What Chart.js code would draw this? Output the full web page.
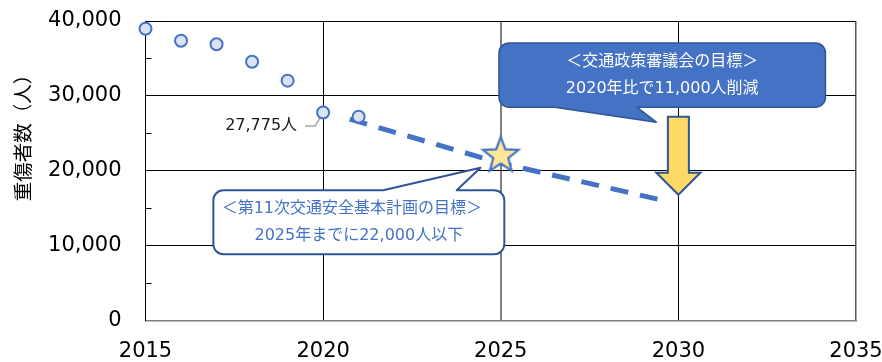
<!DOCTYPE html>
<html><head><meta charset="utf-8">
<script src="https://cdn.jsdelivr.net/npm/chart.js@4"></script>
<style>html,body{margin:0;padding:0;background:#fff}canvas{display:block}</style>
</head><body>
<canvas id="c" width="882" height="362"></canvas>
<script>
// ---- data ----
const years = [2015, 2016, 2017, 2018, 2019, 2020, 2021];
const injuries = [38959, 37356, 36895, 34558, 32025, 27775, 27204];
const trendYears = [2020.75, 2025, 2029.5];
const trendValues = [26880, 21000, 16100];
const targetYears = [2025];
const targetValues = [22000];
const xTickValues = [2015, 2020, 2025, 2030, 2035];
const yTickValues = [0, 10000, 20000, 30000, 40000];
const yMinorTickValues = [5000, 15000, 25000, 35000];
const arrowYears = [2030];
const arrowFromValues = [27200];
const arrowToValues = [16775];
const yTitle = '重傷者数（人）';
const pointLabel = '27,775人';
const callout1Lines = ['＜交通政策審議会の目標＞', '2020年比で11,000人削減'];
const callout2Lines = ['＜第11次交通安全基本計画の目標＞', '2025年までに22,000人以下'];

// ---- annotation geometry (data units) & styles ----
const callout1 = {x1: 2024.95, x2: 2034.14, yTop: 37066, yBottom: 28480,
  tailA: 2026.52, tailB: 2028.83, tipX: 2029.38, tipY: 26480, side: 'bottom',
  fill: '#4472C4', stroke: '#2F5597', lw: 1.5, text: '#FFFFFF', lineDx: [0, 0]};
const callout2 = {x1: 2016.91, x2: 2025.1, yTop: 17373, yBottom: 8840,
  tailA: 2021.69, tailB: 2023.76, tipX: 2024.43, tipY: 20400, side: 'top',
  fill: '#FFFFFF', stroke: '#2F5597', lw: 2, text: '#4472C4', lineDx: [-7, 0]};
const ANN_FONT = '16px "DejaVu Sans", "Noto Sans CJK JP", sans-serif';

function makeStar(R, r, fill, stroke, lw) {
  const s = Math.ceil(2 * R + lw * 2 + 4);
  const c = document.createElement('canvas');
  c.width = s; c.height = s;
  const g = c.getContext('2d');
  const cx = s / 2, cy = s / 2;
  g.beginPath();
  for (let i = 0; i < 10; i++) {
    const a = -Math.PI / 2 + i * Math.PI / 5;
    const rad = i % 2 ? r : R;
    g.lineTo(cx + rad * Math.cos(a), cy + rad * Math.sin(a));
  }
  g.closePath();
  g.fillStyle = fill; g.fill();
  g.lineWidth = lw; g.strokeStyle = stroke; g.lineJoin = 'miter'; g.stroke();
  return c;
}
const starImg = makeStar(18.6, 7.9, '#FFE699', '#4472C4', 2.2);

function drawCallout(ctx, xs, ys, c, lines) {
  const x1 = xs.getPixelForValue(c.x1), x2 = xs.getPixelForValue(c.x2);
  const y1 = ys.getPixelForValue(c.yTop), y2 = ys.getPixelForValue(c.yBottom);
  const ta = xs.getPixelForValue(c.tailA), tb = xs.getPixelForValue(c.tailB);
  const tx = xs.getPixelForValue(c.tipX), ty = ys.getPixelForValue(c.tipY);
  const r = 10;
  ctx.save();
  ctx.beginPath();
  ctx.moveTo(x1 + r, y1);
  if (c.side === 'top') { ctx.lineTo(ta, y1); ctx.lineTo(tx, ty); ctx.lineTo(tb, y1); }
  ctx.arcTo(x2, y1, x2, y1 + r, r);
  ctx.arcTo(x2, y2, x2 - r, y2, r);
  if (c.side === 'bottom') { ctx.lineTo(tb, y2); ctx.lineTo(tx, ty); ctx.lineTo(ta, y2); }
  ctx.arcTo(x1, y2, x1, y2 - r, r);
  ctx.arcTo(x1, y1, x1 + r, y1, r);
  ctx.closePath();
  ctx.fillStyle = c.fill; ctx.fill();
  ctx.lineWidth = c.lw; ctx.strokeStyle = c.stroke; ctx.lineJoin = 'round'; ctx.stroke();
  ctx.fillStyle = c.text; ctx.font = ANN_FONT;
  ctx.textAlign = 'center'; ctx.textBaseline = 'middle';
  const cx = (x1 + x2) / 2, cy = (y1 + y2) / 2;
  ctx.fillText(lines[0], cx + c.lineDx[0], cy - 13.5);
  ctx.fillText(lines[1], cx + c.lineDx[1], cy + 14);
  ctx.restore();
}

function drawArrow(ctx, xs, ys, year, from, to) {
  const x = xs.getPixelForValue(year);
  const yTop = ys.getPixelForValue(from), yTip = ys.getPixelForValue(to);
  const shaftHalf = 10.5, headHalf = 22, headLen = 22;
  const yHead = yTip - headLen;
  ctx.save();
  ctx.beginPath();
  ctx.moveTo(x - shaftHalf, yTop);
  ctx.lineTo(x + shaftHalf, yTop);
  ctx.lineTo(x + shaftHalf, yHead);
  ctx.lineTo(x + headHalf, yHead);
  ctx.lineTo(x, yTip);
  ctx.lineTo(x - headHalf, yHead);
  ctx.lineTo(x - shaftHalf, yHead);
  ctx.closePath();
  ctx.fillStyle = '#FFD966'; ctx.fill();
  ctx.lineWidth = 2; ctx.strokeStyle = '#2F5597'; ctx.lineJoin = 'miter'; ctx.stroke();
  ctx.restore();
}

const annotPlugin = {
  id: 'annot',
  beforeDatasetsDraw(chart) {
    const ctx = chart.ctx, xs = chart.scales.x, ys = chart.scales.y;
    ctx.save();
    ctx.strokeStyle = '#000'; ctx.lineWidth = 1;
    yMinorTickValues.forEach(v => {
      const y = Math.round(ys.getPixelForValue(v)) + 0.5;
      ctx.beginPath(); ctx.moveTo(xs.left, y); ctx.lineTo(xs.left + 6, y); ctx.stroke();
    });
    ctx.restore();
    const i = years.indexOf(2020);
    const px = xs.getPixelForValue(years[i]), py = ys.getPixelForValue(injuries[i]);
    ctx.save();
    ctx.strokeStyle = '#A6A6A6'; ctx.lineWidth = 1.5;
    ctx.beginPath();
    ctx.moveTo(px - 18, py + 13.5); ctx.lineTo(px - 8, py + 13.5); ctx.lineTo(px - 1, py + 2);
    ctx.stroke();
    ctx.fillStyle = '#1A1A1A'; ctx.font = ANN_FONT;
    ctx.textAlign = 'right'; ctx.textBaseline = 'middle';
    ctx.fillText(pointLabel, px - 26, py + 13);
    ctx.restore();
    drawCallout(ctx, xs, ys, callout1, callout1Lines);
    drawCallout(ctx, xs, ys, callout2, callout2Lines);
    arrowYears.forEach((yr, k) => drawArrow(ctx, xs, ys, yr, arrowFromValues[k], arrowToValues[k]));
  },
  afterDraw(chart) {
    const ctx = chart.ctx;
    ctx.save();
    ctx.translate(23, 133);
    ctx.rotate(-Math.PI / 2);
    ctx.fillStyle = '#000';
    ctx.font = '19.5px "Noto Sans CJK JP", sans-serif';
    ctx.textAlign = 'center'; ctx.textBaseline = 'middle';
    ctx.fillText(yTitle, 0, 0);
    ctx.restore();
  }
};

const tickFont = {family: '"DejaVu Sans", sans-serif', size: 21};

new Chart(document.getElementById('c'), {
  type: 'scatter',
  data: {
    datasets: [
      {
        label: '重傷者数',
        data: years.map((y, i) => ({x: y, y: injuries[i]})),
        pointRadius: 6,
        pointBackgroundColor: '#DAE3F3',
        pointBorderColor: '#4472C4',
        pointBorderWidth: 2,
        showLine: false,
        clip: false,
        order: 1
      },
      {
        label: '目標',
        data: targetYears.map((y, i) => ({x: y, y: targetValues[i]})),
        pointStyle: starImg,
        pointRadius: 20,
        showLine: false,
        clip: false,
        order: 0
      },
      {
        label: '推移',
        data: trendYears.map((y, i) => ({x: y, y: trendValues[i]})),
        showLine: true,
        borderColor: '#4472C4',
        borderWidth: 5,
        borderDash: [18, 12],
        borderCapStyle: 'butt',
        pointRadius: 0,
        tension: 0,
        clip: false,
        order: 2
      }
    ]
  },
  options: {
    responsive: false,
    animation: false,
    devicePixelRatio: 1,
    events: [],
    layout: {padding: {top: 19.7, right: 26, left: 0, bottom: 0}},
    plugins: {legend: {display: false}, tooltip: {enabled: false}},
    scales: {
      x: {
        type: 'linear', min: 2015, max: 2035,
        afterBuildTicks: s => { s.ticks = xTickValues.map(v => ({value: v})); },
        afterFit: s => { s.height = 41.7; s.paddingLeft = 0; s.paddingRight = 0; },
        ticks: {font: tickFont, color: '#000', padding: 19, maxRotation: 0, autoSkip: false,
          callback: v => String(v)},
        grid: {
          drawTicks: false,
          color: c => (c.tick && c.tick.value === 2015) ? 'rgba(0,0,0,0)' :
                     (c.tick && c.tick.value === 2025) ? '#7F7F7F' :
                     (c.tick && c.tick.value === 2035) ? '#595959' : '#000',
          lineWidth: c => (c.tick && c.tick.value === 2025) ? 2 :
                         (c.tick && c.tick.value === 2035) ? 1.5 : 1
        },
        border: {color: '#7F7F7F', width: 1.5}
      },
      y: {
        min: 0, max: 40000,
        afterBuildTicks: s => { s.ticks = yTickValues.map(v => ({value: v})); },
        afterFit: s => { s.width = 145.5; s.paddingTop = 0; s.paddingBottom = 0; },
        ticks: {font: tickFont, color: '#000', padding: 24,
          callback: v => Number(v).toLocaleString('en-US')},
        grid: {
          drawTicks: false,
          color: c => (c.tick && c.tick.value === 0) ? 'rgba(0,0,0,0)' : '#000',
          lineWidth: 1
        },
        border: {color: '#000', width: 1}
      }
    }
  },
  plugins: [annotPlugin]
});
</script>
</body></html>
